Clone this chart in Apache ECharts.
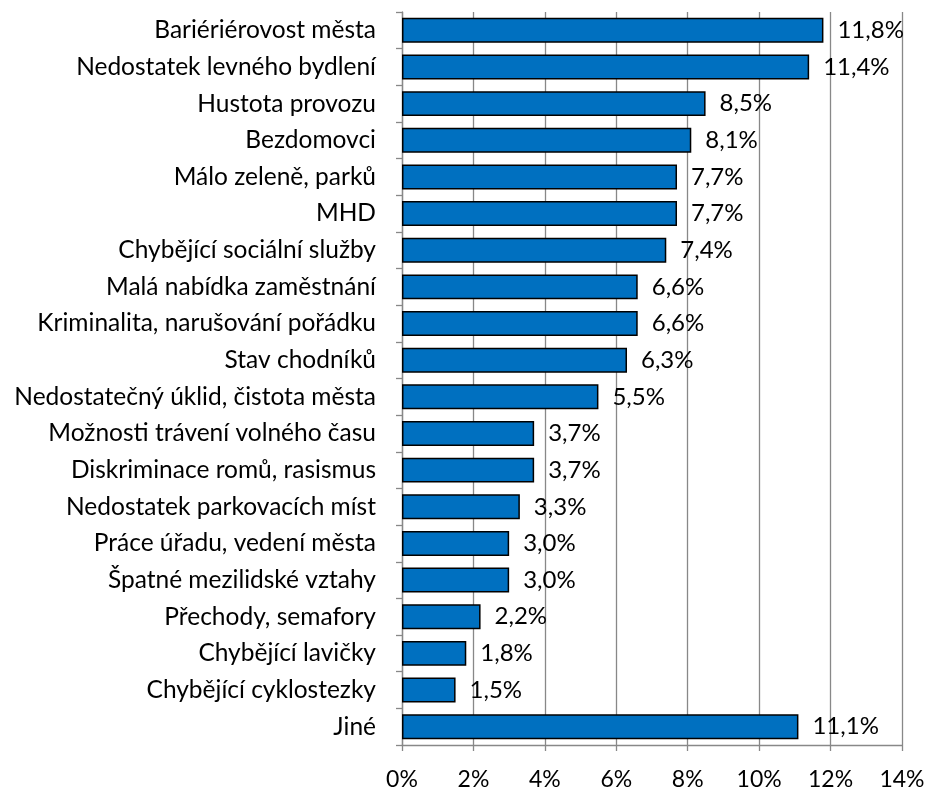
<!DOCTYPE html>
<html><head><meta charset="utf-8">
<script src="https://cdn.jsdelivr.net/npm/echarts@6/dist/echarts.min.js"></script>
<style>html,body{margin:0;padding:0;background:#fff}#c{width:928px;height:791px}</style>
</head><body><div id="c"></div>
<script>
const categories = ["Bariériérovost města","Nedostatek levného bydlení","Hustota provozu","Bezdomovci","Málo zeleně, parků","MHD","Chybějící sociální služby","Malá nabídka zaměstnání","Kriminalita, narušování pořádku","Stav chodníků","Nedostatečný úklid, čistota města","Možnosti trávení volného času","Diskriminace romů, rasismus","Nedostatek parkovacích míst","Práce úřadu, vedení města","Špatné mezilidské vztahy","Přechody, semafory","Chybějící lavičky","Chybějící cyklostezky","Jiné"];
const values = [11.8,11.4,8.5,8.1,7.7,7.7,7.4,6.6,6.6,6.3,5.5,3.7,3.7,3.3,3.0,3.0,2.2,1.8,1.5,11.1];
const xTicks = [0,2,4,6,8,10,12,14];
const font = "Lato, 'Open Sans', sans-serif";
const chart = echarts.init(document.getElementById('c'));
chart.setOption({
  animation:false,
  grid:{left:402,right:26,top:12,bottom:46,containLabel:false},
  xAxis:{type:'value',min:0,max:14,interval:2,
    axisLine:{show:true,lineStyle:{color:'#888',width:1.3}},
    axisTick:{show:true,length:6,lineStyle:{color:'#888',width:1.3}},
    splitLine:{show:true,lineStyle:{color:'#888',width:1.3}},
    axisLabel:{formatter:v=>v+'%',color:'#000',fontSize:23,fontFamily:font,margin:23}},
  yAxis:{type:'category',data:categories,inverse:true,
    axisLine:{show:true,lineStyle:{color:'#888',width:1.3}},
    axisTick:{show:true,length:6,lineStyle:{color:'#888',width:1.3}},
    axisLabel:{color:'#000',fontSize:24.5,fontFamily:font,margin:26}},
  series:[{type:'bar',data:values,barCategoryGap:'32%',
    itemStyle:{color:'#0070C0',borderColor:'#000',borderWidth:1.5},
    label:{show:true,position:'right',distance:14,color:'#000',fontSize:24,fontFamily:font,
      formatter:p=>p.value.toFixed(1).replace('.',',')+'%'}}]
});
</script></body></html>
